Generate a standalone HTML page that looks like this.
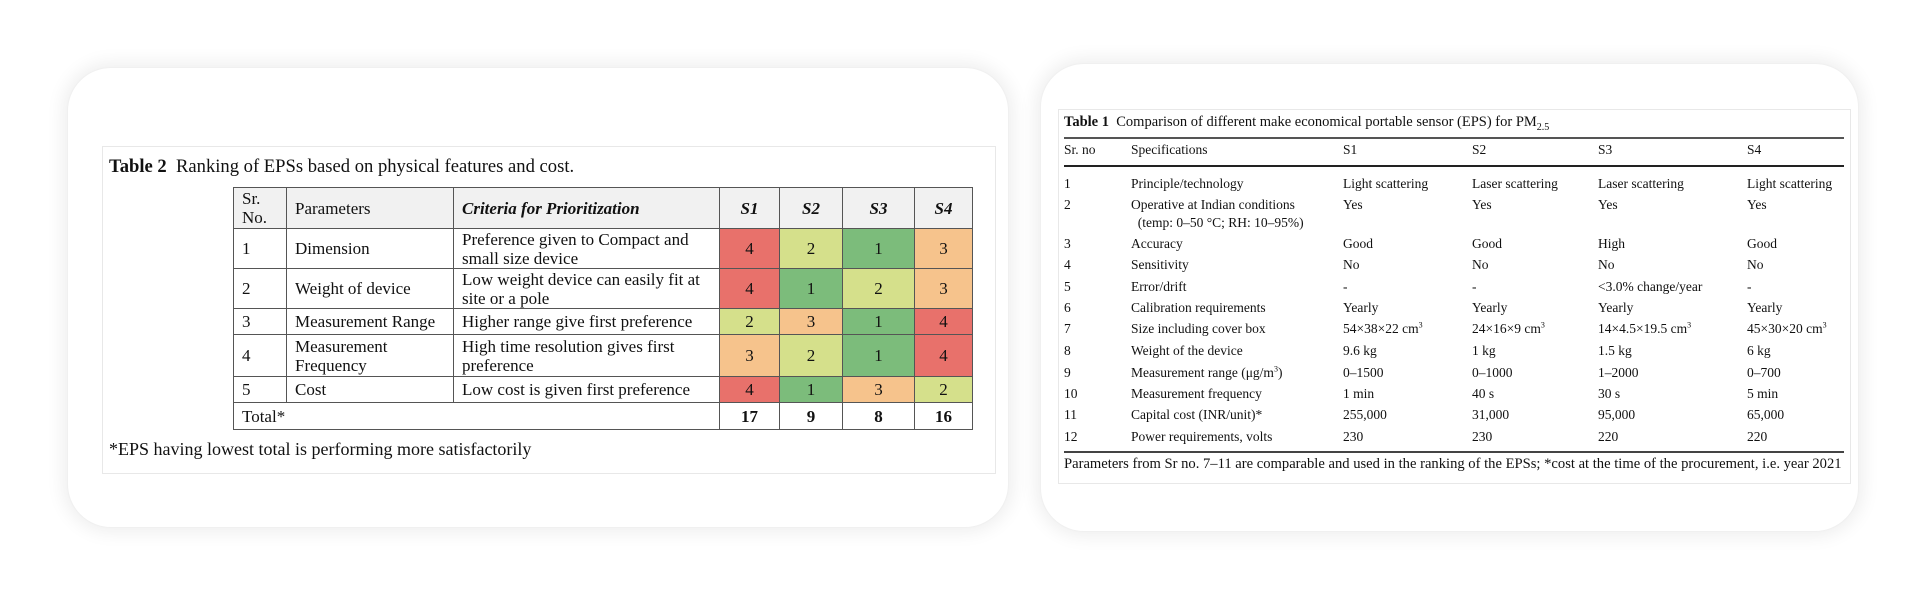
<!DOCTYPE html>
<html><head><meta charset="utf-8"><style>
body{margin:0;width:1922px;height:612px;background:#fff;position:relative;overflow:hidden;font-family:"Liberation Serif",serif;color:#111}
.card{position:absolute;background:#fff;border-radius:44px;box-shadow:0 0 18px 4px rgba(0,0,0,0.07);border:1px solid #f0f0f0}
.fig{position:absolute;border:1px solid #e8e8e8;background:#fff}
#t2{position:absolute;left:233px;top:187px;border-collapse:collapse;font-size:17px;table-layout:fixed}
#t2 td{border:1.6px solid #555;padding:0 8px;line-height:19px}
#t2 td.n{text-align:center;padding:0}
#t2 thead td{background:#f1f1f1}
.r{background:#e8716b}.y{background:#d5e08b}.g{background:#7cbc7b}.o{background:#f6c38c}
.t1{position:absolute;font-size:13.5px;white-space:nowrap}
</style></head><body>
<div class="card" style="left:67px;top:67px;width:940px;height:459px"></div>
<div class="fig" style="left:102px;top:146px;width:892px;height:326px"></div>
<div style="position:absolute;left:109px;top:156px;font-size:18.6px"><b>Table 2</b>&nbsp; Ranking of EPSs based on physical features and cost.</div>
<table id="t2">
<colgroup><col style="width:53px"><col style="width:167px"><col style="width:266px"><col style="width:60px"><col style="width:63px"><col style="width:72px"><col style="width:58px"></colgroup>
<thead><tr style="height:41px"><td>Sr.<br>No.</td><td>Parameters</td><td><b><i>Criteria for Prioritization</i></b></td><td class="n"><b><i>S1</i></b></td><td class="n"><b><i>S2</i></b></td><td class="n"><b><i>S3</i></b></td><td class="n"><b><i>S4</i></b></td></tr></thead>
<tbody>
<tr style="height:40px"><td>1</td><td>Dimension</td><td>Preference given to Compact and small size device</td><td class="n r">4</td><td class="n y">2</td><td class="n g">1</td><td class="n o">3</td></tr>
<tr style="height:40px"><td>2</td><td>Weight of device</td><td>Low weight device can easily fit at site or a pole</td><td class="n r">4</td><td class="n g">1</td><td class="n y">2</td><td class="n o">3</td></tr>
<tr style="height:26px"><td>3</td><td>Measurement Range</td><td>Higher range give first preference</td><td class="n y">2</td><td class="n o">3</td><td class="n g">1</td><td class="n r">4</td></tr>
<tr style="height:42px"><td>4</td><td>Measurement Frequency</td><td>High time resolution gives first preference</td><td class="n o">3</td><td class="n y">2</td><td class="n g">1</td><td class="n r">4</td></tr>
<tr style="height:26px"><td>5</td><td>Cost</td><td>Low cost is given first preference</td><td class="n r">4</td><td class="n g">1</td><td class="n o">3</td><td class="n y">2</td></tr>
<tr style="height:27px"><td colspan="3">Total*</td><td class="n"><b>17</b></td><td class="n"><b>9</b></td><td class="n"><b>8</b></td><td class="n"><b>16</b></td></tr>
</tbody></table>
<div style="position:absolute;left:109px;top:439px;font-size:18px">*EPS having lowest total is performing more satisfactorily</div>

<div class="card" style="left:1040px;top:63px;width:817px;height:467px"></div>
<div class="fig" style="left:1058px;top:109px;width:791px;height:373px"></div>
<div class="t1" style="left:1064px;top:114px;font-size:14.5px"><b>Table 1</b>&nbsp; Comparison of different make economical portable sensor (EPS) for PM<sub style="font-size:10px">2.5</sub></div>
<div style="position:absolute;left:1064px;top:137px;width:780px;height:2px;background:#555"></div>
<div style="position:absolute;left:1064px;top:165px;width:780px;height:2px;background:#222"></div>
<div style="position:absolute;left:1064px;top:451px;width:780px;height:1.5px;background:#444"></div>
<div id="t1"></div>
<div class="t1" style="left:1064px;top:456px;font-size:14.6px">Parameters from Sr no. 7–11 are comparable and used in the ranking of the EPSs; *cost at the time of the procurement, i.e. year 2021</div>
<script>
const cols=[1064,1131,1343,1472,1598,1747];
const header=["Sr. no","Specifications","S1","S2","S3","S4"];
const rows=[
["1","Principle/technology","Light scattering","Laser scattering","Laser scattering","Light scattering"],
["2","Operative at Indian conditions<br>&nbsp;&nbsp;(temp: 0–50 °C; RH: 10–95%)","Yes","Yes","Yes","Yes"],
["3","Accuracy","Good","Good","High","Good"],
["4","Sensitivity","No","No","No","No"],
["5","Error/drift","-","-","&lt;3.0% change/year","-"],
["6","Calibration requirements","Yearly","Yearly","Yearly","Yearly"],
["7","Size including cover box","54×38×22 cm<sup>3</sup>","24×16×9 cm<sup>3</sup>","14×4.5×19.5 cm<sup>3</sup>","45×30×20 cm<sup>3</sup>"],
["8","Weight of the device","9.6 kg","1 kg","1.5 kg","6 kg"],
["9","Measurement range (μg/m<sup>3</sup>)","0–1500","0–1000","1–2000","0–700"],
["10","Measurement frequency","1 min","40 s","30 s","5 min"],
["11","Capital cost (INR/unit)*","255,000","31,000","95,000","65,000"],
["12","Power requirements, volts","230","230","220","220"]];
const rowY=[175,196,235,256,278,299,320,342,364,385,406,428];
const host=document.getElementById('t1');
header.forEach((h,i)=>{const d=document.createElement('div');d.className='t1';


d.style.left=cols[i]+'px';d.style.top='142px';d.innerHTML=h;host.appendChild(d);});
rows.forEach((r,ri)=>r.forEach((c,ci)=>{const d=document.createElement('div');d.className='t1';


d.style.left=cols[ci]+'px';d.style.top=rowY[ri]+'px';d.style.lineHeight='18px';d.innerHTML=c;host.appendChild(d);}));
document.querySelectorAll('.t1 sup').forEach(s=>{s.style.fontSize='8px';s.style.lineHeight='0';});
</script>
</body></html>
